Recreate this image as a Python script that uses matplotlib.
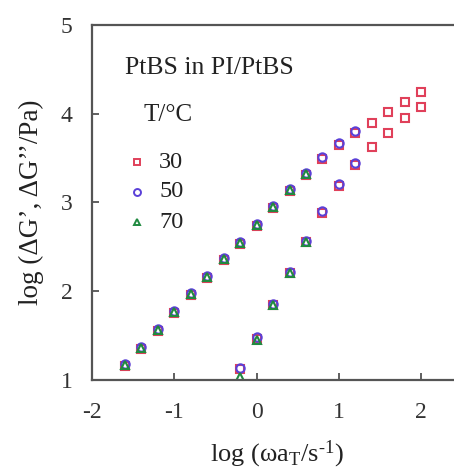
import matplotlib
matplotlib.use("Agg")
import matplotlib.pyplot as plt

plt.rcParams['font.family'] = ['Liberation Serif', 'DejaVu Serif']
plt.rcParams['mathtext.fontset'] = 'custom'
plt.rcParams['mathtext.rm'] = 'Liberation Serif'
plt.rcParams['mathtext.it'] = 'Liberation Serif:italic'
plt.rcParams['axes.unicode_minus'] = False

# log(omega a_T), upper branch (G'') and lower branch (G')
x_upper_30 = [-1.6, -1.4, -1.2, -1.0, -0.8, -0.6, -0.4, -0.2, 0.0, 0.2,
              0.4, 0.6, 0.8, 1.0, 1.2, 1.4, 1.6, 1.8, 2.0]
y_upper_30 = [1.16, 1.35, 1.55, 1.76, 1.96, 2.15, 2.35, 2.53, 2.74, 2.94,
              3.13, 3.31, 3.49, 3.65, 3.78, 3.90, 4.02, 4.13, 4.25]
x_lower_30 = [-0.2, 0.0, 0.2, 0.4, 0.6, 0.8, 1.0, 1.2, 1.4, 1.6, 1.8, 2.0]
y_lower_30 = [1.12, 1.46, 1.84, 2.20, 2.55, 2.88, 3.19, 3.42, 3.62, 3.78, 3.95, 4.08]

x_upper_50 = [-1.6, -1.4, -1.2, -1.0, -0.8, -0.6, -0.4, -0.2, 0.0, 0.2,
              0.4, 0.6, 0.8, 1.0, 1.2]
y_upper_50 = [1.18, 1.37, 1.57, 1.78, 1.98, 2.17, 2.37, 2.55, 2.76, 2.96,
              3.15, 3.33, 3.51, 3.67, 3.80]
x_lower_50 = [-0.2, 0.0, 0.2, 0.4, 0.6, 0.8, 1.0, 1.2]
y_lower_50 = [1.14, 1.48, 1.86, 2.22, 2.57, 2.90, 3.21, 3.44]

x_upper_70 = [-1.6, -1.4, -1.2, -1.0, -0.8, -0.6, -0.4, -0.2, 0.0, 0.2, 0.4, 0.6]
y_upper_70 = [1.17, 1.36, 1.56, 1.77, 1.97, 2.16, 2.36, 2.54, 2.75, 2.95, 3.14, 3.32]
x_lower_70 = [-0.2, 0.0, 0.2, 0.4, 0.6]
y_lower_70 = [1.03, 1.45, 1.84, 2.21, 2.56]

temps = ["30", "50", "70"]
RED, BLUE, GREEN = "#e0405a", "#5a40d8", "#208a40"
TXT = "#222222"

fig = plt.figure(figsize=(4.54, 4.74), dpi=100)
ax = fig.add_axes([0.2026, 0.1983, 0.8158, 0.749])

series = [
    (x_upper_30, y_upper_30, x_lower_30, y_lower_30, "s", RED, 6),
    (x_upper_50, y_upper_50, x_lower_50, y_lower_50, "o", BLUE, 6),
    (x_upper_70, y_upper_70, x_lower_70, y_lower_70, "^", GREEN, 6),
]
for xu, yu, xl, yl, mk, col, ms in series:
    ax.plot(xu, yu, ls="none", marker=mk, ms=ms, mfc="none", mec=col, mew=1.5)
    ax.plot(xl, yl, ls="none", marker=mk, ms=ms, mfc="none", mec=col, mew=1.5)

ax.set_xlim(-2, 2.5)
ax.set_ylim(1, 5)
ax.set_xticks([-2, -1, 0, 1, 2])
ax.set_yticks([1, 2, 3, 4, 5])
ax.tick_params(direction="in", length=5, width=1.2, colors="#444444",
               labelsize=17, labelcolor="#333333")
ax.tick_params(axis="x", pad=16)
ax.tick_params(axis="y", pad=14)
for s in ["left", "bottom", "top"]:
    ax.spines[s].set_color("#555555")
    ax.spines[s].set_linewidth(1.6)
ax.spines["right"].set_visible(False)

ax.set_xlabel(r"log (ωa$_\mathrm{T}$/s$^{\text{-1}}$)", fontsize=19, color=TXT,
              labelpad=11)
ax.set_ylabel("log (ΔG’, ΔG’’/Pa)", fontsize=19.5, color=TXT, labelpad=12)

# annotation and hand-made legend
ax.text(0.089, 0.879, "PtBS in PI/PtBS", transform=ax.transAxes, fontsize=18.5,
        color=TXT, va="center")
ax.text(0.140, 0.746, "T/°C", transform=ax.transAxes, fontsize=18,
        color=TXT, va="center")
leg_y = [0.614, 0.530, 0.445]
for (xu, yu, xl, yl, mk, col, ms), t, ly in zip(series, temps, leg_y):
    ax.plot([0.1215], [ly], transform=ax.transAxes, ls="none", marker=mk, ms=5,
            mfc="none", mec=col, mew=1.4, clip_on=False)
    ax.text(0.181, ly, t, transform=ax.transAxes, fontsize=17.5, color=TXT,
            va="center")

fig.savefig("out.png", dpi=100)
